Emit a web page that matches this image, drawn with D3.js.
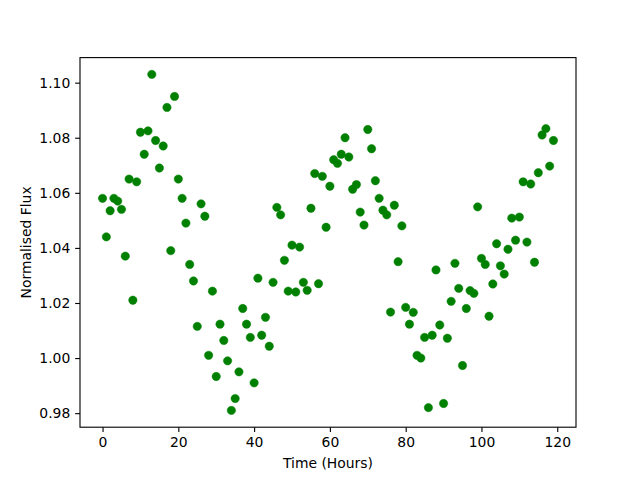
<!DOCTYPE html>
<html>
<head>
<meta charset="utf-8">
<script src="https://cdn.jsdelivr.net/npm/d3@7"></script>
<style>
  body { margin: 0; background: #fff; }
  svg { display: block; }
  text { font-family: "DejaVu Sans", sans-serif; }
</style>
</head>
<body>
<svg id="chart" width="640" height="480"></svg>
<script>
// Time in hours
const hours = d3.range(0, 120);
// Normalised flux values
const flux = [
  1.058, 1.044, 1.0535, 1.058, 1.057, 1.054, 1.037, 1.065, 1.021, 1.064,
  1.082, 1.074, 1.0825, 1.103, 1.079, 1.069, 1.077, 1.091, 1.039, 1.095,
  1.065, 1.058, 1.049, 1.034, 1.028, 1.0115, 1.056, 1.0515, 1.001, 1.0243,
  0.9933, 1.0123, 1.0064, 0.999, 0.981, 0.9853, 0.995, 1.018, 1.0123, 1.0075,
  0.991, 1.029, 1.0083, 1.0148, 1.0043, 1.0275, 1.0547, 1.052, 1.0355, 1.0243,
  1.041, 1.024, 1.0403, 1.0275, 1.0246, 1.0544, 1.067, 1.027, 1.066, 1.0475,
  1.0624, 1.072, 1.0707, 1.074, 1.080, 1.073, 1.0613, 1.063, 1.053, 1.0483,
  1.083, 1.076, 1.0644, 1.058, 1.0537, 1.052, 1.0167, 1.0555, 1.035, 1.048,
  1.0184, 1.0123, 1.0166, 1.001, 1.0, 1.0075, 0.982, 1.0083, 1.032, 1.012,
  0.9835, 1.0072, 1.0206, 1.0344, 1.0253, 0.9973, 1.018, 1.0245, 1.0235, 1.0549,
  1.0362, 1.034, 1.0152, 1.0269, 1.0415, 1.0335, 1.0305, 1.0395, 1.0508, 1.0428,
  1.0512, 1.064, 1.0421, 1.0632, 1.0348, 1.0673, 1.081, 1.0833, 1.0697, 1.079
];
const xTicks = [0, 20, 40, 60, 80, 100, 120];
const yTicks = [0.98, 1.00, 1.02, 1.04, 1.06, 1.08, 1.10];
const xLabel = "Time (Hours)";
const yLabel = "Normalised Flux";

(function () {
const data = hours.map((h, i) => ({ x: h, y: flux[i] }));

const svg = d3.select("#chart");
const mLeft = 80, mRight = 576, mTop = 57.6, mBottom = 427.2;

function padded(ext) {
  const m = (ext[1] - ext[0]) * 0.05;
  return [ext[0] - m, ext[1] + m];
}
const x = d3.scaleLinear().domain(padded(d3.extent(hours))).range([mLeft, mRight]);
const y = d3.scaleLinear().domain(padded(d3.extent(flux))).range([mBottom, mTop]);

const tickLen = 4.86, tickPad = 4.86, fontSize = 13.9;

// points
svg.append("g")
  .selectAll("circle")
  .data(data)
  .join("circle")
  .attr("cx", d => x(d.x))
  .attr("cy", d => y(d.y))
  .attr("r", 4.17)
  .attr("fill", "#008000")
  .attr("stroke", "#008000")
  .attr("stroke-width", 0.5);

// axes
const xAxis = d3.axisBottom(x).tickValues(xTicks).tickFormat(d3.format("d"))
  .tickSizeInner(tickLen).tickSizeOuter(0).tickPadding(tickPad);
const yAxis = d3.axisLeft(y).tickValues(yTicks).tickFormat(d3.format(".2f"))
  .tickSizeInner(tickLen).tickSizeOuter(0).tickPadding(tickPad);

const gx = svg.append("g").attr("transform", `translate(0,${mBottom})`).call(xAxis);
const gy = svg.append("g").attr("transform", `translate(${mLeft},0)`).call(yAxis);
[gx, gy].forEach(g => {
  g.select(".domain").remove();
  g.selectAll(".tick line").attr("stroke", "#000").attr("stroke-width", 1.11);
  g.selectAll(".tick text").attr("fill", "#000").style("font-size", fontSize + "px")
    .style("font-family", "'DejaVu Sans', sans-serif");
});

// frame
svg.append("rect")
  .attr("x", mLeft).attr("y", mTop)
  .attr("width", mRight - mLeft).attr("height", mBottom - mTop)
  .attr("fill", "none").attr("stroke", "#000").attr("stroke-width", 1.11);

// axis labels
svg.append("text")
  .attr("x", (mLeft + mRight) / 2).attr("y", 468)
  .attr("text-anchor", "middle")
  .style("font-size", fontSize + "px")
  .text(xLabel);

svg.append("text")
  .attr("transform", `translate(31,${(mTop + mBottom) / 2}) rotate(-90)`)
  .attr("text-anchor", "middle")
  .style("font-size", fontSize + "px")
  .text(yLabel);
})();
</script>
</body>
</html>
